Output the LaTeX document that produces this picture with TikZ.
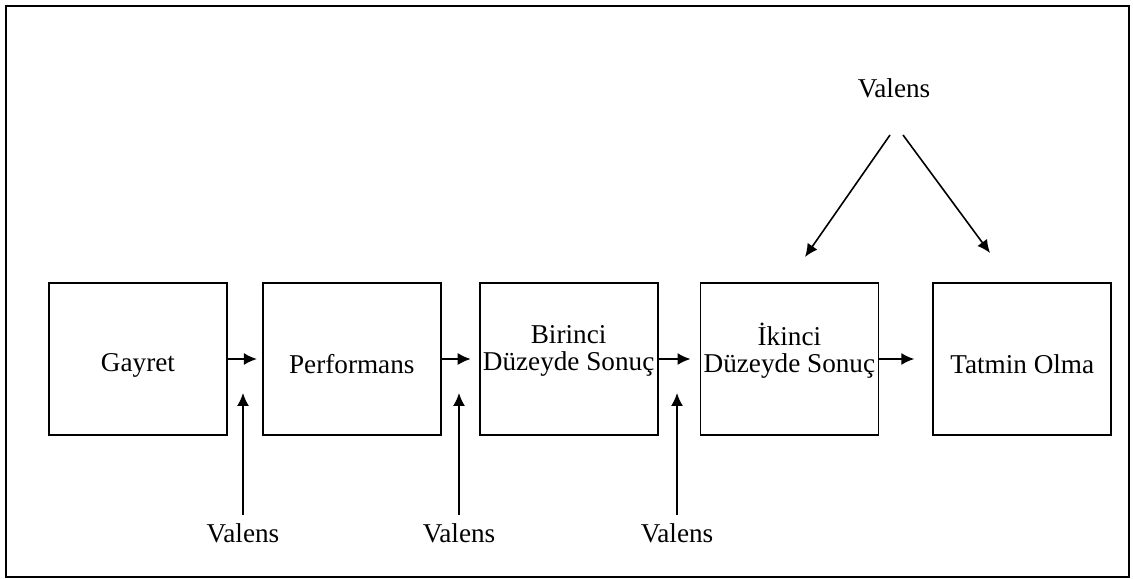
\documentclass[tikz,border=0pt]{standalone}
\usepackage{fontspec}
\setmainfont{Liberation Serif}
\usetikzlibrary{arrows.meta,positioning}

\begin{document}
\begin{tikzpicture}[
    x=0.5pt,y=0.5pt,
    stage/.style={rectangle,draw,line width=0.9pt,minimum height=76pt,
                  minimum width=89pt,align=center,inner sep=1pt,
                  font=\fontsize{13.6}{13.5}\selectfont},
    oneline/.style={text height=15pt},
    twoline/.style={text depth=11pt},
    valens/.style={font=\fontsize{13.6}{14}\selectfont,inner sep=1pt},
    arrow/.style={-{Latex[length=6.5pt,width=6pt]},line width=0.8pt}
]
    \useasboundingbox (0,0) rectangle (1133,578);
    \draw[line width=1pt] (6,1) rectangle (1129,572);

    \node[stage,oneline] (gayret) at (138,219) {Gayret};
    \node[stage,oneline,right=17pt of gayret] (perf) {Performans};
    \node[stage,twoline,right=18.5pt of perf] (birinci) {Birinci\\Düzeyde Sonuç};
    \node[stage,twoline,right=20.5pt of birinci] (ikinci) {İkinci\\Düzeyde Sonuç};
    \node[stage,oneline,right=26.5pt of ikinci] (tatmin) {Tatmin Olma};

    \draw[arrow,shorten >=2.5pt] (gayret.east) -- (perf.west);
    \draw[arrow,shorten >=4pt] (perf.east) -- (birinci.west);
    \draw[arrow,shorten >=4.5pt] (birinci.east) -- (ikinci.west);
    \draw[arrow,shorten >=9pt] (ikinci.east) -- (tatmin.west);

    % valens below
    \node[valens] (v1) at (243,45) {Valens};
    \node[valens] (v2) at (459,45) {Valens};
    \node[valens] (v3) at (677,45) {Valens};
    \coordinate (t1) at (243,185);
    \coordinate (t2) at (459,185);
    \coordinate (t3) at (677,185);
    \draw[arrow,shorten <=3pt] (v1.north) -- (t1);
    \draw[arrow,shorten <=3pt] (v2.north) -- (t2);
    \draw[arrow,shorten <=3pt] (v3.north) -- (t3);

    % valens above
    \node[valens] (vtop) at (894,490) {Valens};
    \coordinate (sa) at (890,443);
    \coordinate (sb) at (903,443);
    \coordinate (ta) at (805,321);
    \coordinate (tb) at (990,325);
    \draw[arrow] (sa) -- (ta);
    \draw[arrow] (sb) -- (tb);
\end{tikzpicture}
\end{document}
